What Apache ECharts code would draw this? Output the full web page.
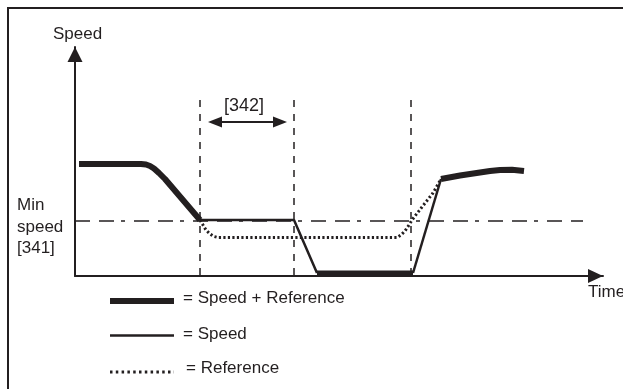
<!DOCTYPE html>
<html>
<head>
<meta charset="utf-8">
<script src="https://cdn.jsdelivr.net/npm/echarts@6/dist/echarts.min.js"></script>
<style>
html,body{margin:0;padding:0;background:#fff;}
#c{width:623px;height:389px;}
</style>
</head>
<body>
<div id="c"></div>
<script>
// ---- data (time units, speed units) ----
const timeMax = 528;
const speedMax = 229;
const minSpeed = 55;                       // Min speed [341]
const guideTimes = [125, 219, 336];        // dashed vertical markers
const guideTop = 176;
const delayRange = [140, 205];             // [342] arrow
const delayLevel = 154;

// Speed + Reference (thick)
const speedRefStart = [[4,112],[66,112],[71,111.5],[75,110],[79,107.5],[84,103],[90,97],[125,56]];
const speedRefLow   = [[242,3],[338,3]];
const speedRefEnd   = [[366,97],[385,100.5],[405,103.5],[415,105],[425,106],[437,106.3],[449,105]];
// Speed only (thin)
const speedHold = [[125,56],[219,56],[242,3]];
const speedRise = [[338,3],[366,97]];
// Reference only (dotted)
const reference = [[125,56],[128,51],[131,46],[135,42],[139,39.5],[143,38.5],[322,38.5],[326,41],[330,45],[334,51],[337,56],[347,69],[358,83],[366,97]];

const ink = '#231f20';
const font = '"Liberation Sans", Arial, sans-serif';

function lineSeries(data, width, type, z) {
  return {
    type: 'line', data: data, showSymbol: false, symbol: 'none', silent: true, z: z,
    animation: false,
    lineStyle: { color: ink, width: width, type: type || 'solid', cap: 'butt', join: 'round' },
    emphasis: { disabled: true }
  };
}

const series = [];
// min speed dash-dot line
series.push(lineSeries([[0, minSpeed], [508, minSpeed]], 1.5, [15, 9, 15, 7, 4, 9], 1));
// vertical guides
guideTimes.forEach(t => series.push(lineSeries([[t, guideTop], [t, 0]], 1.5, [7, 7], 1)));
// reference dotted
series.push(lineSeries(reference, 3, [2.2, 2.3], 3));
// speed thin
series.push(lineSeries(speedHold, 2.5, 'solid', 4));
series.push(lineSeries(speedRise, 2.5, 'solid', 4));
// speed + reference thick
series.push(lineSeries(speedRefStart, 6, 'solid', 5));
series.push(lineSeries(speedRefLow, 5, 'solid', 5));
series.push(lineSeries(speedRefEnd, 6, 'solid', 5));
// [342] double arrow
series.push({
  type: 'line', data: [], silent: true, animation: false,
  markLine: {
    silent: true, animation: false,
    symbol: ['triangle', 'triangle'], symbolSize: [11, 14],
    label: { show: false },
    lineStyle: { color: ink, width: 2, type: 'solid' },
    emphasis: { disabled: true },
    data: [[{ coord: [delayRange[0], delayLevel] }, { coord: [delayRange[1], delayLevel] }]]
  }
});

function txt(x, y, s, extra) {
  return Object.assign({ type: 'text', x: x, y: y, silent: true,
    style: { text: s, fill: ink, font: '17px ' + font, textVerticalAlign: 'middle', verticalAlign: 'middle' } }, extra || {});
}

const chart = echarts.init(document.getElementById('c'), null, { renderer: 'canvas' });
chart.setOption({
  animation: false,
  backgroundColor: '#fff',
  grid: { left: 75, right: 20, top: 47, bottom: 113, containLabel: false },
  xAxis: {
    type: 'value', min: 0, max: timeMax,
    axisLine: { show: true, onZero: false, symbol: ['none', 'triangle'], symbolSize: [14, 15], symbolOffset: [0, -7.5],
      lineStyle: { color: ink, width: 2 } },
    axisTick: { show: false }, axisLabel: { show: false }, splitLine: { show: false }
  },
  yAxis: {
    type: 'value', min: 0, max: speedMax,
    axisLine: { show: true, onZero: false, symbol: ['none', 'triangle'], symbolSize: [15, 15], symbolOffset: [0, -7.5],
      lineStyle: { color: ink, width: 2 } },
    axisTick: { show: false }, axisLabel: { show: false }, splitLine: { show: false }
  },
  series: series,
  graphic: [
    { type: 'polyline', silent: true, shape: { points: [[8, 389], [8, 8], [623, 8]] },
      style: { stroke: ink, lineWidth: 2, fill: null } },
    txt(53, 34.5, 'Speed'),
    txt(588, 292.5, 'Time'),
    txt(224, 106, '[342]', { style: { text: '[342]', fill: ink, font: '18px ' + font, verticalAlign: 'middle' } }),
    txt(17, 205.5, 'Min'),
    txt(17, 227.5, 'speed'),
    txt(17, 248.5, '[341]'),
    // legend
    { type: 'line', silent: true, shape: { x1: 110, y1: 301, x2: 174, y2: 301 }, style: { stroke: ink, lineWidth: 6 } },
    txt(183, 298, '= Speed + Reference'),
    { type: 'line', silent: true, shape: { x1: 110, y1: 335.5, x2: 174, y2: 335.5 }, style: { stroke: ink, lineWidth: 2.5 } },
    txt(183, 334, '= Speed'),
    { type: 'line', silent: true, shape: { x1: 110, y1: 372, x2: 174, y2: 372 }, style: { stroke: ink, lineWidth: 3, lineDash: [2.5, 3.3] } },
    txt(186, 368, '= Reference')
  ]
});
</script>
</body>
</html>
